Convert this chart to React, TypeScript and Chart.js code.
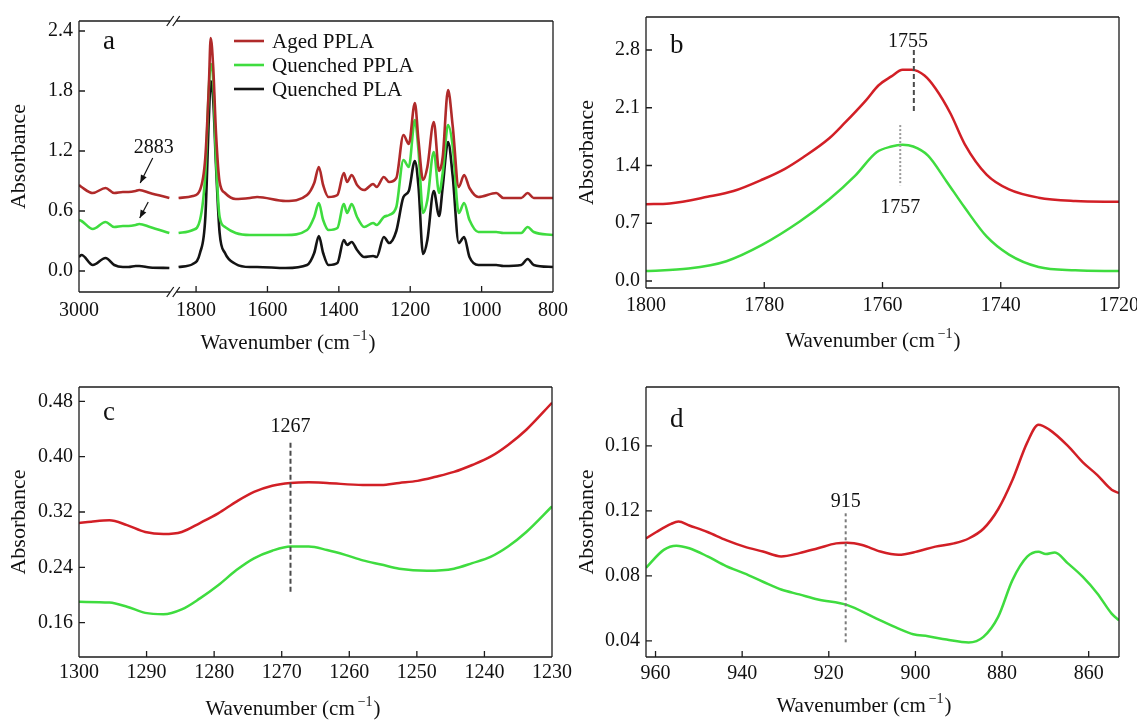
import React, { useEffect, useRef } from "react";
import { Chart, registerables } from "chart.js";

Chart.register(...registerables);

const SERIF = "'Liberation Serif', 'Times New Roman', Times, serif";
const TEXT = "#111111";
const RED_A = "#b02a2a";
const RED = "#d21f26";
const GREEN = "#3fdc3f";
const BLACK = "#141414";

const SERIES = ["Aged PPLA", "Quenched PPLA", "Quenched PLA"];

// ---------- Panel a: high-wavenumber segment (3000 – 2820 cm-1)
const aWnHigh = [3000, 2995, 2973, 2948, 2931, 2914, 2903, 2889, 2882, 2861, 2823];
const aAgedHigh = [0.86, 0.84, 0.78, 0.83, 0.78, 0.79, 0.79, 0.8, 0.81, 0.78, 0.73];
const aQppHigh = [0.51, 0.5, 0.42, 0.49, 0.44, 0.45, 0.45, 0.46, 0.47, 0.44, 0.38];
const aQplaHigh = [0.14, 0.16, 0.06, 0.13, 0.06, 0.04, 0.04, 0.05, 0.05, 0.035, 0.03];

// ---------- Panel a: fingerprint segment (1850 – 800 cm-1)
const aWnLow = [1849, 1809, 1789, 1774, 1764, 1759, 1752, 1744, 1734, 1719, 1689, 1649, 1629, 1549, 1489, 1469, 1456, 1444, 1429, 1404, 1386, 1377, 1364, 1349, 1329, 1304, 1294, 1274, 1259, 1239, 1219, 1204, 1187, 1177, 1164, 1152, 1134, 1119, 1109, 1094, 1081, 1064, 1049, 1034, 1009, 959, 939, 889, 871, 854, 800];
const aAgedLow = [0.73, 0.75, 0.81, 1.14, 1.87, 2.33, 2.04, 1.37, 0.89, 0.78, 0.72, 0.73, 0.74, 0.7, 0.76, 0.88, 1.04, 0.86, 0.74, 0.76, 0.98, 0.89, 0.96, 0.86, 0.81, 0.87, 0.84, 0.94, 0.89, 0.93, 1.36, 1.27, 1.68, 1.31, 0.91, 1.04, 1.49, 1.0, 1.14, 1.81, 1.45, 0.84, 0.96, 0.83, 0.74, 0.78, 0.73, 0.73, 0.78, 0.73, 0.73];
const aQppLow = [0.38, 0.41, 0.51, 0.98, 1.84, 2.07, 1.91, 1.11, 0.54, 0.44, 0.38, 0.36, 0.36, 0.36, 0.41, 0.54, 0.68, 0.51, 0.41, 0.43, 0.67, 0.58, 0.67, 0.54, 0.44, 0.48, 0.46, 0.54, 0.56, 0.64, 1.11, 1.04, 1.51, 1.21, 0.58, 0.71, 1.19, 0.78, 0.98, 1.46, 1.25, 0.58, 0.68, 0.51, 0.39, 0.39, 0.38, 0.38, 0.44, 0.39, 0.36];
const aQplaLow = [0.04, 0.07, 0.18, 0.54, 1.54, 1.9, 1.71, 1.04, 0.38, 0.18, 0.07, 0.04, 0.04, 0.03, 0.06, 0.18, 0.35, 0.18, 0.06, 0.08, 0.31, 0.26, 0.29, 0.21, 0.14, 0.15, 0.14, 0.34, 0.28, 0.4, 0.74, 0.8, 1.1, 0.85, 0.17, 0.31, 0.8, 0.55, 0.84, 1.29, 0.95, 0.28, 0.34, 0.14, 0.06, 0.06, 0.05, 0.06, 0.12, 0.06, 0.04];

const aXTicks = [3000, 1800, 1600, 1400, 1200, 1000, 800];
const aYTicks = [0, 0.6, 1.2, 1.8, 2.4];
const aMarker = 2883;

// ---------- Panel b (1800 – 1720)
const bWnAged = [1800, 1796, 1789.6, 1785.2, 1780.3, 1776.5, 1773.4, 1769, 1766.6, 1762.8, 1760.7, 1758.5, 1756.6, 1755.1, 1752.9, 1751, 1748.5, 1746.1, 1742.4, 1738.6, 1733.6, 1727.4, 1720];
const bAged = [0.93, 0.94, 1.02, 1.09, 1.23, 1.36, 1.5, 1.73, 1.9, 2.19, 2.37, 2.48, 2.56, 2.56, 2.49, 2.33, 2.03, 1.66, 1.29, 1.11, 1.01, 0.97, 0.96];
const bWnQpp = [1800, 1792.8, 1786.4, 1780.3, 1774, 1769, 1764.7, 1761, 1758.5, 1756.6, 1754.8, 1752.3, 1749.2, 1746.1, 1742.4, 1738.6, 1733.6, 1727.4, 1720];
const bQpp = [0.12, 0.15, 0.24, 0.44, 0.72, 0.99, 1.27, 1.56, 1.63, 1.65, 1.63, 1.52, 1.21, 0.89, 0.54, 0.32, 0.17, 0.13, 0.12];
const bXTicks = [1800, 1780, 1760, 1740, 1720];
const bYTicks = [0, 0.7, 1.4, 2.1, 2.8];
const bPeakAged = 1755;
const bPeakQpp = 1757;

// ---------- Panel c (1300 – 1230)
const cWnAged = [1300, 1298.2, 1295.5, 1292.9, 1290.2, 1287.5, 1284.8, 1282.1, 1279.4, 1276.7, 1274.1, 1271.4, 1268.7, 1266, 1263.3, 1258, 1255.3, 1252.6, 1249.9, 1247.2, 1244.5, 1241.8, 1239.1, 1236.5, 1233.8, 1230];
const cAged = [0.304, 0.306, 0.308, 0.301, 0.291, 0.288, 0.291, 0.304, 0.318, 0.335, 0.349, 0.358, 0.362, 0.363, 0.362, 0.359, 0.359, 0.362, 0.365, 0.371, 0.378, 0.388, 0.4, 0.417, 0.439, 0.478];
const cWnQpp = [1300, 1295.5, 1292.9, 1290.2, 1287.5, 1284.8, 1282.1, 1279.4, 1276.7, 1274.1, 1271.4, 1268.7, 1266, 1263.3, 1260.6, 1258, 1255.3, 1252.6, 1248.5, 1244.5, 1241.8, 1239.1, 1236.5, 1233.8, 1230];
const cQpp = [0.19, 0.189, 0.183, 0.174, 0.172, 0.179, 0.195, 0.214, 0.236, 0.253, 0.264, 0.27, 0.27, 0.265, 0.258, 0.25, 0.244, 0.238, 0.235, 0.238, 0.246, 0.255, 0.27, 0.291, 0.328];
const cXTicks = [1300, 1290, 1280, 1270, 1260, 1250, 1240, 1230];
const cYTicks = [0.16, 0.24, 0.32, 0.4, 0.48];
const cPeak = 1267;

// ---------- Panel d (962 – 853)
const dWnAged = [962.2, 959.8, 956.4, 954.7, 952.2, 948, 943.7, 939.5, 935.2, 931, 926.8, 922.5, 918.3, 915.7, 912.3, 908.1, 903.9, 899.6, 895.4, 891.1, 887.7, 884.3, 880.9, 877.6, 874.2, 871.6, 869.1, 864.8, 861.4, 858, 854.7, 853];
const dAged = [0.103, 0.107, 0.112, 0.1134, 0.111, 0.107, 0.102, 0.098, 0.095, 0.092, 0.094, 0.097, 0.1, 0.1004, 0.099, 0.095, 0.093, 0.095, 0.098, 0.1, 0.103, 0.109, 0.121, 0.139, 0.162, 0.173, 0.17, 0.16, 0.15, 0.142, 0.133, 0.131];
const dWnQpp = [962.2, 958.1, 955.2, 952.2, 948, 943.7, 939.5, 935.2, 931, 926.8, 922.5, 915.7, 909.8, 903.9, 900.5, 897.1, 892.8, 887.7, 884.3, 880.9, 877.6, 874.2, 871.6, 869.9, 867.8, 864.8, 861.4, 858, 854.7, 853];
const dQpp = [0.085, 0.096, 0.0986, 0.097, 0.092, 0.086, 0.0815, 0.0764, 0.0716, 0.0686, 0.0655, 0.062, 0.0548, 0.0476, 0.0441, 0.0429, 0.0408, 0.039, 0.0425, 0.0548, 0.0774, 0.0918, 0.0949, 0.0934, 0.0944, 0.0877, 0.0795, 0.0692, 0.0568, 0.0527];
const dXTicks = [960, 940, 920, 900, 880, 860];
const dYTicks = [0.04, 0.08, 0.12, 0.16];
const dPeak = 915;

// ---------- broken axis mapping for panel a
const A_LEFT_VIRTUAL = 2128; // axis value where 3000 cm-1 sits
const A_HIGH_RATIO = 1.43; // compression of the 3000–2820 segment
const A_BREAK = 1864;
const toVirtual = (wn: number) => (wn > 2000 ? A_LEFT_VIRTUAL - (3000 - wn) * A_HIGH_RATIO : wn);
const fromVirtual = (v: number) => (v > A_BREAK ? Math.round(3000 - (A_LEFT_VIRTUAL - v) / A_HIGH_RATIO) : v);

const pts = (xs: number[], ys: number[], map?: (v: number) => number) =>
  xs.map((x, i) => ({ x: map ? map(x) : x, y: ys[i] }));

const line = (data: any[], color: string, width = 2.5) => ({
  data,
  borderColor: color,
  backgroundColor: color,
  borderWidth: width,
  pointRadius: 0,
  fill: false,
  cubicInterpolationMode: "monotone",
});

const vline = (x: number, y0: number, y1: number, color: string, dash: number[]) => ({
  data: [
    { x, y: y0 },
    { x, y: y1 },
  ],
  borderColor: color,
  borderWidth: 2,
  borderDash: dash,
  pointRadius: 0,
  fill: false,
});

type Spec = {
  left: number;
  top: number;
  w: number;
  h: number;
  area: { left: number; top: number; right: number; bottom: number };
  xMin: number;
  xMax: number;
  xTicks: number[];
  xLabel: (v: number) => string;
  xPad: number;
  yMin: number;
  yMax: number;
  yTicks: number[];
  yDigits: number;
  datasets: any[];
  letter: { text: string; x: number; y: number };
  xTitle: { x: number; y: number };
  breakAt?: number;
  extra?: (chart: any) => void;
};

function drawXTitle(ctx: CanvasRenderingContext2D, cx: number, cy: number) {
  const main = "Wavenumber (cm";
  const sup = "\u22121";
  const end = ")";
  ctx.font = `21px ${SERIF}`;
  const w1 = ctx.measureText(main).width;
  const w3 = ctx.measureText(end).width;
  ctx.font = `14px ${SERIF}`;
  const w2 = ctx.measureText(sup).width;
  const total = w1 + 3 + w2 + 1 + w3;
  let x = cx - total / 2;
  const base = cy + 7;
  ctx.textAlign = "left";
  ctx.textBaseline = "alphabetic";
  ctx.fillStyle = TEXT;
  ctx.font = `21px ${SERIF}`;
  ctx.fillText(main, x, base);
  x += w1 + 3;
  ctx.font = `14px ${SERIF}`;
  ctx.fillText(sup, x, base - 9);
  x += w2 + 1;
  ctx.font = `21px ${SERIF}`;
  ctx.fillText(end, x, base);
}

function arrow(ctx: CanvasRenderingContext2D, x0: number, y0: number, x1: number, y1: number) {
  ctx.beginPath();
  ctx.moveTo(x0, y0);
  ctx.lineTo(x1, y1);
  ctx.stroke();
  const ang = Math.atan2(y1 - y0, x1 - x0);
  const L = 8;
  const W = 3.2;
  ctx.beginPath();
  ctx.moveTo(x1, y1);
  ctx.lineTo(x1 - L * Math.cos(ang) + W * Math.sin(ang), y1 - L * Math.sin(ang) - W * Math.cos(ang));
  ctx.lineTo(x1 - L * Math.cos(ang) - W * Math.sin(ang), y1 - L * Math.sin(ang) + W * Math.cos(ang));
  ctx.closePath();
  ctx.fill();
}

function makeChart(canvas: HTMLCanvasElement, s: Spec) {
  const decor = {
    id: "decor",
    afterDraw(chart: any) {
      const ctx: CanvasRenderingContext2D = chart.ctx;
      const a = chart.chartArea;
      const xs = chart.scales.x;
      const ys = chart.scales.y;
      ctx.save();
      ctx.strokeStyle = "#1c1c1c";
      ctx.lineWidth = 1.3;
      ctx.beginPath();
      ctx.moveTo(a.left, a.top);
      ctx.lineTo(a.left, a.bottom);
      ctx.moveTo(a.right, a.top);
      ctx.lineTo(a.right, a.bottom);
      if (s.breakAt === undefined) {
        ctx.moveTo(a.left, a.top);
        ctx.lineTo(a.right, a.top);
        ctx.moveTo(a.left, a.bottom);
        ctx.lineTo(a.right, a.bottom);
      } else {
        const bx = xs.getPixelForValue(s.breakAt);
        for (const yy of [a.top, a.bottom]) {
          ctx.moveTo(a.left, yy);
          ctx.lineTo(bx - 3, yy);
          ctx.moveTo(bx + 3, yy);
          ctx.lineTo(a.right, yy);
          for (const dx of [-3, 3]) {
            ctx.moveTo(bx + dx - 3.5, yy + 5);
            ctx.lineTo(bx + dx + 3.5, yy - 5);
          }
        }
      }
      for (const t of s.xTicks) {
        const v = s.breakAt !== undefined && t > 2000 ? toVirtual(t) : t;
        const px = xs.getPixelForValue(v);
        if (px < a.left + 2 || px > a.right - 2) continue;
        ctx.moveTo(px, a.bottom);
        ctx.lineTo(px, a.bottom - 6);
      }
      for (const t of s.yTicks) {
        const py = ys.getPixelForValue(t);
        ctx.moveTo(a.left, py);
        ctx.lineTo(a.left + 6, py);
      }
      ctx.stroke();

      ctx.fillStyle = TEXT;
      ctx.textAlign = "left";
      ctx.textBaseline = "alphabetic";
      ctx.font = `27px ${SERIF}`;
      ctx.fillText(s.letter.text, s.letter.x, s.letter.y);
      drawXTitle(ctx, s.xTitle.x, s.xTitle.y);
      if (s.extra) s.extra(chart);
      ctx.restore();
    },
  };

  return new Chart(canvas, {
    type: "line",
    data: { datasets: s.datasets },
    options: {
      responsive: false,
      maintainAspectRatio: false,
      animation: false,
      devicePixelRatio: 1,
      layout: { padding: { top: s.area.top, right: s.w - s.area.right, left: 0, bottom: 0 } },
      plugins: { legend: { display: false }, tooltip: { enabled: false } },
      scales: {
        x: {
          type: "linear",
          reverse: true,
          min: s.xMin,
          max: s.xMax,
          grid: { display: false, drawTicks: false },
          border: { display: false },
          ticks: {
            color: TEXT,
            font: { family: SERIF, size: 20 },
            padding: s.xPad,
            autoSkip: false,
            maxRotation: 0,
            callback: (v: any) => s.xLabel(Number(v)),
          },
          afterBuildTicks: (sc: any) => {
            sc.ticks = s.xTicks.map((t) => ({ value: s.breakAt !== undefined && t > 2000 ? toVirtual(t) : t }));
          },
          afterFit: (sc: any) => {
            sc.height = s.h - s.area.bottom;
            sc.paddingLeft = 0;
            sc.paddingRight = 0;
          },
        },
        y: {
          type: "linear",
          min: s.yMin,
          max: s.yMax,
          grid: { display: false, drawTicks: false },
          border: { display: false },
          title: {
            display: true,
            text: "Absorbance",
            color: TEXT,
            font: { family: SERIF, size: 22 },
            padding: { top: 6, bottom: 0 },
          },
          ticks: {
            color: TEXT,
            font: { family: SERIF, size: 20 },
            padding: 6,
            autoSkip: false,
            callback: (v: any) => Number(v).toFixed(s.yDigits),
          },
          afterBuildTicks: (sc: any) => {
            sc.ticks = s.yTicks.map((t) => ({ value: t }));
          },
          afterFit: (sc: any) => {
            sc.width = s.area.left;
            sc.paddingTop = 0;
            sc.paddingBottom = 0;
          },
        },
      },
    } as any,
    plugins: [decor],
  });
}

const specA: Spec = {
  left: 0,
  top: 0,
  w: 590,
  h: 360,
  area: { left: 79, top: 21, right: 553, bottom: 292 },
  xMin: 800,
  xMax: A_LEFT_VIRTUAL,
  xTicks: aXTicks,
  xLabel: (v) => String(fromVirtual(v)),
  xPad: 7,
  yMin: -0.21,
  yMax: 2.5,
  yTicks: aYTicks,
  yDigits: 1,
  breakAt: A_BREAK,
  datasets: [
    line(pts(aWnHigh, aAgedHigh, toVirtual), RED_A, 2.6),
    line(pts(aWnLow, aAgedLow), RED_A, 2.6),
    line(pts(aWnHigh, aQppHigh, toVirtual), GREEN, 2.6),
    line(pts(aWnLow, aQppLow), GREEN, 2.6),
    line(pts(aWnHigh, aQplaHigh, toVirtual), BLACK, 2.6),
    line(pts(aWnLow, aQplaLow), BLACK, 2.6),
  ],
  letter: { text: "a", x: 103, y: 49 },
  xTitle: { x: 288, y: 342 },
  extra: (chart: any) => {
    const ctx: CanvasRenderingContext2D = chart.ctx;
    const xs = chart.scales.x;
    const ys = chart.scales.y;
    // legend
    const colors = [RED_A, GREEN, BLACK];
    SERIES.forEach((name, i) => {
      const y = 41 + i * 24;
      ctx.strokeStyle = colors[i];
      ctx.lineWidth = 2.6;
      ctx.beginPath();
      ctx.moveTo(234, y);
      ctx.lineTo(264, y);
      ctx.stroke();
      ctx.fillStyle = TEXT;
      ctx.font = `21px ${SERIF}`;
      ctx.textAlign = "left";
      ctx.textBaseline = "middle";
      ctx.fillText(name, 272, y + 1);
    });
    // 2883 marker
    const mx = xs.getPixelForValue(toVirtual(aMarker));
    ctx.fillStyle = TEXT;
    ctx.strokeStyle = TEXT;
    ctx.lineWidth = 1.2;
    ctx.font = `20px ${SERIF}`;
    ctx.textAlign = "center";
    ctx.textBaseline = "middle";
    ctx.fillText(String(aMarker), mx + 15, ys.getPixelForValue(1.23));
    arrow(ctx, mx + 14, ys.getPixelForValue(1.13), mx + 1.5, ys.getPixelForValue(0.88));
    arrow(ctx, mx + 9.5, ys.getPixelForValue(0.69), mx + 1, ys.getPixelForValue(0.53));
  },
};

const specB: Spec = {
  left: 568,
  top: 0,
  w: 569,
  h: 360,
  area: { left: 78, top: 17, right: 551, bottom: 288 },
  xMin: 1720,
  xMax: 1800,
  xTicks: bXTicks,
  xLabel: (v) => String(v),
  xPad: 6,
  yMin: -0.085,
  yMax: 3.2,
  yTicks: bYTicks,
  yDigits: 1,
  datasets: [
    vline(bPeakAged - 0.3, 2.8, 2.05, "#4a4a4a", [5, 3]),
    vline(bPeakQpp, 1.89, 1.16, "#9a9a9a", [2, 2]),
    line(pts(bWnAged, bAged), RED),
    line(pts(bWnQpp, bQpp), GREEN),
  ],
  letter: { text: "b", x: 102, y: 53 },
  xTitle: { x: 305, y: 340 },
  extra: (chart: any) => {
    const ctx: CanvasRenderingContext2D = chart.ctx;
    const xs = chart.scales.x;
    const ys = chart.scales.y;
    ctx.fillStyle = TEXT;
    ctx.font = `20px ${SERIF}`;
    ctx.textAlign = "center";
    ctx.textBaseline = "middle";
    ctx.fillText(String(bPeakAged), xs.getPixelForValue(bPeakAged) - 4, ys.getPixelForValue(2.9));
    ctx.fillText(String(bPeakQpp), xs.getPixelForValue(bPeakQpp), ys.getPixelForValue(0.89));
  },
};

const specC: Spec = {
  left: 0,
  top: 360,
  w: 590,
  h: 360,
  area: { left: 79, top: 27, right: 552, bottom: 297 },
  xMin: 1230,
  xMax: 1300,
  xTicks: cXTicks,
  xLabel: (v) => String(v),
  xPad: 4,
  yMin: 0.1102,
  yMax: 0.5008,
  yTicks: cYTicks,
  yDigits: 2,
  datasets: [
    vline(cPeak + 1.7, 0.42, 0.202, "#4a4a4a", [5, 3]),
    line(pts(cWnAged, cAged), RED),
    line(pts(cWnQpp, cQpp), GREEN),
  ],
  letter: { text: "c", x: 103, y: 60 },
  xTitle: { x: 293, y: 348 },
  extra: (chart: any) => {
    const ctx: CanvasRenderingContext2D = chart.ctx;
    const xs = chart.scales.x;
    const ys = chart.scales.y;
    ctx.fillStyle = TEXT;
    ctx.font = `20px ${SERIF}`;
    ctx.textAlign = "center";
    ctx.textBaseline = "middle";
    ctx.fillText(String(cPeak), xs.getPixelForValue(cPeak + 1.7), ys.getPixelForValue(0.4437));
  },
};

const specD: Spec = {
  left: 568,
  top: 360,
  w: 569,
  h: 360,
  area: { left: 78, top: 27, right: 551, bottom: 297 },
  xMin: 853,
  xMax: 962.2,
  xTicks: dXTicks,
  xLabel: (v) => String(v),
  xPad: 5,
  yMin: 0.0301,
  yMax: 0.1962,
  yTicks: dYTicks,
  yDigits: 2,
  datasets: [
    vline(dPeak + 1.1, 0.1185, 0.0384, "#7a7a7a", [3, 3]),
    line(pts(dWnAged, dAged), RED),
    line(pts(dWnQpp, dQpp), GREEN),
  ],
  letter: { text: "d", x: 102, y: 67 },
  xTitle: { x: 296, y: 345 },
  extra: (chart: any) => {
    const ctx: CanvasRenderingContext2D = chart.ctx;
    const xs = chart.scales.x;
    const ys = chart.scales.y;
    ctx.fillStyle = TEXT;
    ctx.font = `20px ${SERIF}`;
    ctx.textAlign = "center";
    ctx.textBaseline = "middle";
    ctx.fillText(String(dPeak), xs.getPixelForValue(dPeak + 1.1), ys.getPixelForValue(0.1257));
  },
};

function Panel({ spec }: { spec: Spec }) {
  const ref = useRef<HTMLCanvasElement | null>(null);
  useEffect(() => {
    if (!ref.current) return;
    const chart = makeChart(ref.current, spec);
    return () => chart.destroy();
  }, [spec]);
  return (
    <canvas
      ref={ref}
      width={spec.w}
      height={spec.h}
      style={{ position: "absolute", left: spec.left, top: spec.top, width: spec.w, height: spec.h }}
    />
  );
}

export default function App() {
  return (
    <div style={{ position: "absolute", left: 0, top: 0, width: 1137, height: 720, background: "#ffffff", overflow: "hidden" }}>
      <Panel spec={specA} />
      <Panel spec={specC} />
      <Panel spec={specB} />
      <Panel spec={specD} />
    </div>
  );
}
